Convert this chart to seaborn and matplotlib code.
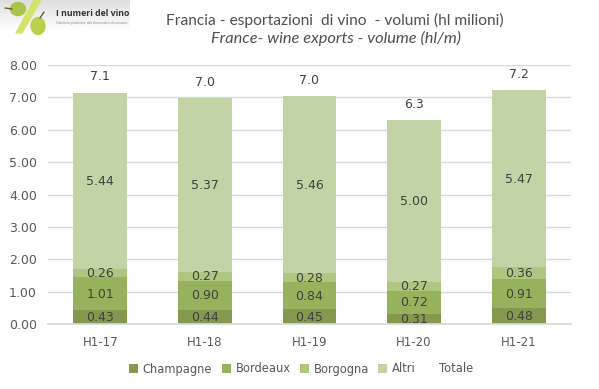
import matplotlib
matplotlib.use('Agg')
import matplotlib.pyplot as plt
import numpy as np
import pandas as pd
import seaborn as sns
from matplotlib.patches import Ellipse, Polygon

periods = ['H1-17', 'H1-18', 'H1-19', 'H1-20', 'H1-21']
champagne = [0.43, 0.44, 0.45, 0.31, 0.48]
bordeaux = [1.01, 0.90, 0.84, 0.72, 0.91]
borgogna = [0.26, 0.27, 0.28, 0.27, 0.36]
altri = [5.44, 5.37, 5.46, 5.00, 5.47]
totale = [7.14, 6.98, 7.03, 6.30, 7.22]
yticks = [0, 1, 2, 3, 4, 5, 6, 7, 8]

series = {'Champagne': champagne, 'Bordeaux': bordeaux, 'Borgogna': borgogna, 'Altri': altri}
colors = ['#84994f', '#97b25c', '#aec67f', '#c2d3a5']

sns.set_theme(style='white')
plt.rcParams['font.family'] = ['DejaVu Sans']

W, H = 599, 389
fig = plt.figure(figsize=(W / 100, H / 100), dpi=100)
ax = fig.add_axes([48 / W, 1 - 324 / H, 523 / W, 259 / H])

bottom = np.zeros(len(periods))
for (name, values), color in zip(series.items(), colors):
    df = pd.DataFrame({'period': periods, 'value': values})
    sns.barplot(data=df, x='period', y='value', color=color, width=0.516, saturation=1,
                bottom=bottom, label=name, ax=ax, legend=False, linewidth=0, edgecolor='none')
    for i, v in enumerate(values):
        ax.text(i, bottom[i] + v / 2 - 0.01, f'{v:.2f}', ha='center', va='center',
                fontsize=9, color='#404040')
    bottom = bottom + np.array(values)

# totale is only labels in the original, the line itself is hidden
sns.lineplot(x=range(len(periods)), y=totale, linestyle='none', label='Totale', ax=ax, legend=False)
for i, v in enumerate(totale):
    ax.annotate(f'{v:.1f}', (i, v), xytext=(0, 11.5), textcoords='offset points', ha='center',
                va='center', fontsize=9, color='#404040')

ax.set_xlim(-0.5, 4.5)
ax.set_ylim(0, 8)
ax.set_yticks(yticks)
ax.set_yticklabels([f'{t:.2f}' for t in yticks])
ax.set_xlabel('')
ax.set_ylabel('')
ax.grid(axis='y', color='#d9d9d9', linewidth=1)
ax.set_axisbelow(True)
sns.despine(ax=ax, left=True, top=True, right=True)
ax.spines['bottom'].set_color('#d9d9d9')
ax.tick_params(axis='x', length=0, pad=9, labelsize=8.5, labelcolor='#595959')
ax.tick_params(axis='y', length=0, pad=8, labelsize=9, labelcolor='#595959')

handles, labels = ax.get_legend_handles_labels()
order = [labels.index(n) for n in list(series) + ['Totale']]
ax.legend([handles[i] for i in order], [labels[i] for i in order], ncol=5, frameon=False, loc='center',
          bbox_to_anchor=(301 / W, 1 - 369 / H), bbox_transform=fig.transFigure, fontsize=8.3,
          labelcolor='#595959', handlelength=0.8, handleheight=0.8, handletextpad=0.4, columnspacing=0.8)

fig.text(335 / W, 1 - 20 / H, 'Francia - esportazioni  di vino  - volumi (hl milioni)', ha='center', va='center',
         fontsize=11.2, color='#505050', family='Lato')
fig.text(336 / W, 1 - 38.5 / H, 'France- wine exports - volume (hl/m)', ha='center', va='center',
         fontsize=11.8, color='#505050', family='Lato', style='italic')

# logo
logo = fig.add_axes([0, 1 - 36 / H, 130 / W, 36 / H])
logo.imshow(np.linspace(0.87, 1, 64).reshape(-1, 1), cmap='gray', vmin=0, vmax=1, aspect='auto',
            extent=(0, 130, 30, 0))
logo.set_xlim(0, 130)
logo.set_ylim(36, 0)
logo.axis('off')
logo.add_patch(Polygon([[34, 0], [41, 0], [22, 33], [16, 33]], color='#d6e36a'))
logo.add_patch(Ellipse((18, 9), 15, 13, color='#a9c44a'))
logo.add_patch(Ellipse((38, 26), 14, 17, color='#bcd04f'))
logo.plot([5, 12], [8, 9], color='#6b5a2c', linewidth=1)
logo.plot([40, 44], [18, 12], color='#6b5a2c', linewidth=1)
logo.text(56, 14, 'I numeri del vino', fontsize=6.3, weight='bold', color='#333333', va='center', family='Open Sans')
logo.text(56, 23, 'Statistiche produttive, dati di mercato e di consumo.', fontsize=2.2, color='#777777',
          va='center', family='Open Sans')

fig.savefig('out.png', dpi=100)
